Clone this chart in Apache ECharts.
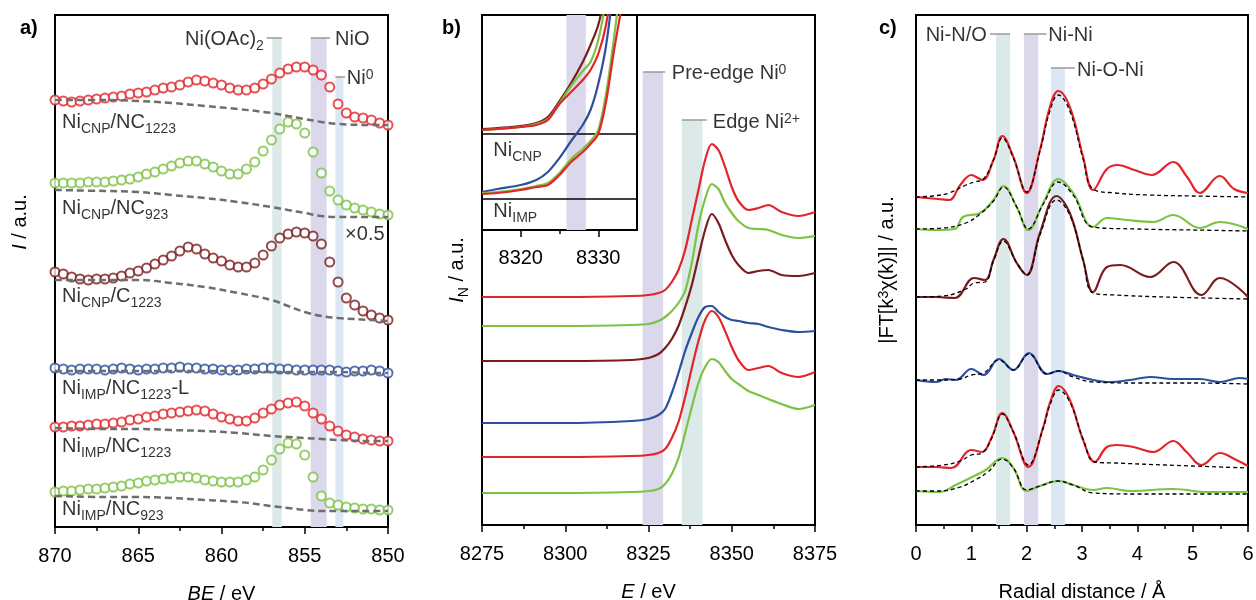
<!DOCTYPE html>
<html><head><meta charset="utf-8">
<script src="https://cdn.jsdelivr.net/npm/echarts@6/dist/echarts.min.js"></script>
<style>html,body{margin:0;padding:0;background:#fff}#c{width:1256px;height:600px}</style>
</head><body><div id="c"></div>
<script>
// ---------- Panel a: XPS Ni 2p3/2 (BE / eV, intensity in a.u.) ----------
const beXps = [870,869.5,869,868.5,868,867.5,867,866.5,866,865.5,865,864.5,864,863.5,863,862.5,862,861.5,861,860.5,860,859.5,859,858.5,858,857.5,857,856.5,856,855.5,855,854.5,854,853.5,853,852.5,852,851.5,851,850.5,850];
const xpsCnpNc1223 = [427,426,425,426,427,428,429,430,431,433,434,435,437,439,440,442,445,447,446,444,442,439,437,437,439,443,448,454,458,460,460,457,452,440,423,414,410,409,407,404,402];
const xpsCnpNc923 = [344,344,344,344,345,345,345,346,347,348,350,353,355,358,361,364,366,366,363,360,356,353,353,358,365,376,387,398,405,403,394,375,354,336,327,322,319,317,315,313,312];
const xpsCnpC1223 = [255,253,250,248,247,248,248,249,251,254,256,259,263,267,271,276,280,278,273,269,266,262,260,260,264,272,281,289,293,295,294,291,283,265,245,229,222,216,212,209,207];
const xpsImpNc1223L = [159,158,157,158,158,158,157,158,159,158,157,158,158,159,159,160,159,159,158,158,157,157,157,158,158,159,159,158,158,157,157,157,157,157,156,155,156,156,157,156,154];
const xpsImpNc1223 = [100,100,101,101,102,103,103,104,105,107,108,110,111,113,114,115,116,117,116,113,110,108,106,106,109,114,118,122,124,125,121,114,108,101,96,92,90,88,87,86,86];
const xpsImpNc923 = [35,36,36,37,38,38,39,40,41,43,44,46,47,48,49,50,50,49,47,46,45,45,45,47,50,57,67,78,84,83,72,50,31,24,22,20,19,18,18,17,17];
const beBg = [870,867,865,863,861,859,857,856,855,854,853,851,850];
const bgCnpNc1223 = [427,427,426,424,421,418,414,411,408,405,403,402,402];
const bgCnpNc923 = [337,336,335,332,329,325,320,317,314,311,310,310,310];
const bgCnpC1223 = [247,247,247,244,240,234,227,221,215,211,209,207,206];
const bgImpNc1223L = [156,156,156,156,156,156,155,155,155,155,155,154,154];
const bgImpNc1223 = [99,98,98,97,96,94,91,90,89,88,87,86,86];
const bgImpNc923 = [31,30,30,29,27,25,21,19,17,16,16,16,16];

// ---------- Panel b: XANES Ni K-edge ----------
const eXanes = [8275,8300,8320,8325,8328,8330,8332,8334,8336,8338,8340,8342,8344,8346,8348,8350,8352,8355,8358,8361,8365,8370,8375];
const xanCnpNc1223 = [228,228,229,230,232,235,243,255,275,305,335,365,381,375,358,338,324,315,317,320,313,309,313];
const xanCnpNc923 = [199,199,200,201,204,208,214,222,234,262,300,326,341,336,322,312,304,297,296,295,290,287,289];
const xanCnpC1223 = [164,164,165,167,171,177,186,199,218,240,268,295,311,302,285,270,260,252,254,255,250,249,252];
const xanImpNc1223L = [102,102,104,106,110,116,132,152,174,192,208,218,219,213,208,205,204,202,201,198,195,193,194];
const xanImpNc1223 = [68,68,69,70,72,76,87,103,128,157,184,205,214,208,194,178,165,155,157,159,152,148,153];
const xanImpNc923 = [32,32,33,34,36,41,51,67,92,118,142,158,166,163,154,146,141,134,130,126,121,116,120];
// inset (pre-edge zoom)
const eInset = [8315,8317,8320,8322,8323.5,8325,8326.5,8328,8329,8330,8331,8332,8333,8334];
const insCnpC1223 = [101,102,104,107,113,129,147,168,185,205,240];
const insCnpNc923 = [100,101,103,106,111,127,144,159,168,190,228,262];
const insCnpNc1223 = [100,101,103,105,110,126,138,150,160,176,205,260];
const insImpNc1223L = [38,41,45,50,58,72,89,105,120,146,184,245];
const insImpNc923 = [37,38,41,44,47,57,71,81,89,100,136,190,255];
const insImpNc1223 = [36,37,40,43,45,55,68,78,86,96,128,178,222,265];
const insetTickLabels = [8320, 8330];
const insetMinorTicks = [8325];

// ---------- Panel c: FT-EXAFS ----------
const rRedTop = [0,0.2,0.4,0.6,0.8,1.0,1.2,1.4,1.56,1.76,2.0,2.24,2.42,2.57,2.78,3.02,3.2,3.45,3.65,3.95,4.26,4.65,4.9,5.13,5.49,5.75,6];
const ftRedTop = [328,327,326,325,340,350,345,365,389,368,332,375,418,434,418,368,335,356,360,355,350,363,348,332,349,336,332];
const rRedTopFit = [0,0.3,0.6,0.9,1.05,1.22,1.4,1.56,1.76,2.0,2.24,2.42,2.57,2.78,3.02,3.2,3.6,4.2,5,6];
const fitRedTop = [328,329,332,340,343,346,365,387,367,333,374,414,430,414,366,336,332,330,329,328];
const rGreenTop = [0,0.36,0.7,0.85,1.16,1.4,1.58,1.82,2.03,2.3,2.57,2.84,3.2,3.45,3.81,4.29,4.65,5.13,5.49,6];
const ftGreenTop = [296,295,296,308,312,325,339,318,295,322,346,332,298,307,305,303,310,297,303,296];
const rGreenTopFit = [0,0.5,0.9,1.16,1.4,1.58,1.82,2.03,2.3,2.57,2.84,3.2,4,5,6];
const fitGreenTop = [296,297,302,311,324,338,318,296,321,343,330,298,296,295,294];
const rDark = [0,0.36,0.7,1.05,1.25,1.4,1.58,1.82,2.0,2.24,2.54,2.78,3.02,3.2,3.45,3.69,4.23,4.65,5.16,5.49,6];
const ftDark = [228,228,227,247,245,265,286,262,250,292,329,312,265,233,258,260,248,263,230,247,228];
const rDarkFit = [0,0.5,0.9,1.05,1.25,1.4,1.58,1.82,2.0,2.24,2.54,2.78,3.02,3.2,3.6,4.5,6];
const fitDark = [228,229,236,242,243,264,284,262,250,290,325,310,265,232,230,228,226];
const rBlue = [0,0.36,0.54,0.72,1.0,1.22,1.5,1.76,2.04,2.37,2.57,2.84,3.2,3.5,3.87,4.23,4.65,5.13,5.49,5.85,6];
const ftBlue = [145,143,146,145,156,150,166,155,172,151,154,150,145,143,145,148,146,146,143,147,146];
const rBlueFit = [0,0.5,0.8,1.0,1.22,1.5,1.76,2.04,2.37,2.57,2.84,3.2,4,5,6];
const fitBlue = [145,145,146,150,152,165,155,171,151,154,148,143,142,142,141];
const rRedBot = [0,0.36,0.64,1.0,1.19,1.37,1.56,1.76,2.03,2.3,2.42,2.58,2.78,3.02,3.23,3.45,3.63,3.93,4.29,4.65,4.89,5.16,5.49,5.79,6];
const ftRedBot = [58,58,57,75,73,88,112,93,58,98,122,139,125,85,63,78,80,78,73,84,73,60,72,65,59];
const rRedBotFit = [0,0.5,0.8,1.0,1.19,1.37,1.56,1.76,2.03,2.3,2.42,2.58,2.78,3.02,3.23,3.6,4.5,6];
const fitRedBot = [58,60,64,70,72,87,111,93,60,97,120,135,123,86,63,62,60,57];
const rGreenBot = [0,0.42,0.72,1.02,1.26,1.56,1.76,2.0,2.24,2.57,2.84,3.2,3.45,3.87,4.65,5.25,6];
const ftGreenBot = [34,33,40,48,55,67,57,34,39,44,40,35,37,34,36,33,33];
const rGreenBotFit = [0,0.42,0.8,1.1,1.3,1.56,1.76,2.0,2.24,2.57,2.84,3.2,4,5,6];
const fitGreenBot = [34,34,38,46,53,66,57,35,39,44,40,32,31,31,31];

// ---------- styling ----------
const F = '"Liberation Sans", Arial, Helvetica, sans-serif';
const RED = '#e3242b', GREEN = '#7cc243', DRED = '#7b1b1e', BLUE = '#2c4f9f', BGC = '#6e6e6e';
const TEAL = '#dce9e9', LAV = '#dcd8ec', LBLUE = '#dbe7f2', GUIDE = '#9a9a9a';
const rich = {
  n: {fontFamily: F, fontSize: 20, color: '#000', lineHeight: 22, verticalAlign: 'middle'},
  i: {fontFamily: F, fontSize: 20, fontStyle: 'italic', color: '#000', lineHeight: 22, verticalAlign: 'middle'},
  s: {fontFamily: F, fontSize: 14, color: '#000', lineHeight: 14, padding: [14, 0, 0, 0], verticalAlign: 'middle'},
  p: {fontFamily: F, fontSize: 14, color: '#000', lineHeight: 14, padding: [0, 0, 6, 0], verticalAlign: 'middle'}
};
const zip = (xs, ys) => ys.map((y, k) => [xs[k], y]);
const plain = v => String(v);

function xAx(gi, min, max, interval, name, extra) {
  return Object.assign({
    type: 'value', gridIndex: gi, min: min, max: max, interval: interval, position: 'bottom',
    axisLine: {show: true, onZero: false, lineStyle: {color: '#000', width: 2}},
    axisTick: {show: true, inside: false, length: 7, lineStyle: {color: '#000', width: 1.5}},
    minorTick: {show: true, splitNumber: 2, length: 4, lineStyle: {color: '#000', width: 1.5}},
    axisLabel: {fontFamily: F, fontSize: 20, color: '#000', margin: 19, formatter: plain},
    splitLine: {show: false}, minorSplitLine: {show: false},
    name: name, nameLocation: 'middle', nameGap: 56,
    nameTextStyle: {rich: rich}
  }, extra || {});
}
function yAx(gi, max, name, gap) {
  return {
    type: 'value', gridIndex: gi, min: 0, max: max,
    axisLine: {show: false}, axisTick: {show: false}, axisLabel: {show: false},
    splitLine: {show: false},
    name: name || '', nameLocation: 'middle', nameGap: gap || 20, nameRotate: 90,
    nameTextStyle: {rich: rich}
  };
}
function band(xi, yi, rows) {
  return {
    type: 'custom', xAxisIndex: xi, yAxisIndex: yi, z: 1, silent: true,
    data: rows,
    renderItem: function (params, api) {
      const p1 = api.coord([api.value(0), api.value(2)]);
      const p2 = api.coord([api.value(1), 0]);
      return {type: 'rect', shape: {x: Math.min(p1[0], p2[0]), y: p1[1], width: Math.abs(p2[0] - p1[0]), height: p2[1] - p1[1]},
        style: {fill: [TEAL, LAV, LBLUE][api.value(3)]}};
    }
  };
}
function seg(xi, yi, pts, color, w) {
  return {type: 'line', xAxisIndex: xi, yAxisIndex: yi, data: pts, symbol: 'none', silent: true, z: 2,
    lineStyle: {color: color || GUIDE, width: w || 1.5}};
}
function labels(xi, yi, items) {
  return {type: 'scatter', xAxisIndex: xi, yAxisIndex: yi, symbolSize: 0.1, silent: true, z: 10,
    itemStyle: {color: 'transparent'},
    label: {show: true, distance: 0, rich: rich},
    data: items.map(it => ({value: [it[0], it[1]], label: {position: it[2], formatter: it[3], distance: 0, rich: rich}}))};
}
function xpsSeries(vals, color) {
  return {type: 'scatter', xAxisIndex: 0, yAxisIndex: 0, symbol: 'emptyCircle', symbolSize: 9, z: 3, silent: true,
    itemStyle: {color: color, borderColor: color, borderWidth: 1.4}, data: zip(beXps, vals)};
}
function bgSeries(vals) {
  return {type: 'line', xAxisIndex: 0, yAxisIndex: 0, symbol: 'none', smooth: 0.4, z: 5, silent: true,
    lineStyle: {color: BGC, width: 2.5, type: [7, 4]}, data: zip(beBg, vals)};
}
function curve(xi, yi, xs, ys, color, sm) {
  return {type: 'line', xAxisIndex: xi, yAxisIndex: yi, symbol: 'none', smooth: sm, z: 4, silent: true, clip: true,
    lineStyle: {color: color, width: 2.2}, data: zip(xs, ys)};
}
function fit(xs, ys) {
  return {type: 'line', xAxisIndex: 4, yAxisIndex: 3, symbol: 'none', smooth: 0.4, z: 6, silent: true,
    lineStyle: {color: '#000', width: 1.3, type: [4, 3]}, data: zip(xs, ys)};
}
function gridBox(left, width, height, bg) {
  return {left: left, top: 15, width: width, height: height, show: true, borderColor: '#000', borderWidth: 2,
    backgroundColor: bg || 'transparent', containLabel: false, outerBoundsMode: 'none'};
}

const chart = echarts.init(document.getElementById('c'), null, {renderer: 'canvas'});
const option = {
  animation: false,
  backgroundColor: '#fff',
  title: [
    {text: 'a)', left: 15, top: 13, textStyle: {fontFamily: F, fontSize: 20, fontWeight: 'bold', color: '#000'}},
    {text: 'b)', left: 437, top: 13, textStyle: {fontFamily: F, fontSize: 20, fontWeight: 'bold', color: '#000'}},
    {text: 'c)', left: 874, top: 13, textStyle: {fontFamily: F, fontSize: 20, fontWeight: 'bold', color: '#000'}}
  ],
  graphic: [
    {type: 'text', x: 20, y: 222, rotation: Math.PI / 2, z: 20,
      style: {text: '{i|I}{n| / a.u.}', rich: rich, align: 'center', verticalAlign: 'middle'}}
  ],
  grid: [
    gridBox(55, 333, 512),
    gridBox(482, 333, 510),
    gridBox(482, 155, 215, '#fff'),
    gridBox(916, 332, 510)
  ],
  xAxis: [
    xAx(0, 850, 870, 5, '{i|BE}{n| / eV}', {inverse: true}),
    xAx(1, 8275, 8375, 25, '{i|E}{n| / eV}'),
    xAx(2, 8315, 8335, 5, '', {
      axisLabel: {fontFamily: F, fontSize: 20, color: '#000', margin: 18, formatter: plain, customValues: insetTickLabels},
      axisTick: {show: true, length: 7, lineStyle: {color: '#000', width: 1.5}, customValues: insetTickLabels},
      minorTick: {show: false}}),
    xAx(2, 8315, 8335, 5, '', {
      axisLine: {show: false}, axisLabel: {show: false},
      axisTick: {show: true, length: 4, lineStyle: {color: '#000', width: 1.5}, customValues: insetMinorTicks},
      minorTick: {show: false}}),
    xAx(3, 0, 6, 1, '{n|Radial distance / Å}')
  ],
  yAxis: [
    yAx(0, 512),
    yAx(1, 510, '{i|I}{s|N}{n| / a.u.}', 14),
    yAx(2, 215),
    yAx(3, 510, '{n||FT[k}{p|3}{n|χ(k)]| / a.u.}', 18)
  ],
  series: [
    // panel a
    band(0, 0, [[856.95, 856.38, 489, 0], [854.64, 853.68, 489, 1], [853.16, 852.68, 450, 2]]),
    seg(0, 0, [[857.29, 489], [856.38, 489]]),
    seg(0, 0, [[854.64, 489], [853.48, 489]]),
    seg(0, 0, [[853.16, 450], [852.58, 450]]),
    xpsSeries(xpsCnpNc1223, RED),
    xpsSeries(xpsCnpNc923, GREEN),
    xpsSeries(xpsCnpC1223, DRED),
    xpsSeries(xpsImpNc1223L, BLUE),
    xpsSeries(xpsImpNc1223, RED),
    xpsSeries(xpsImpNc923, GREEN),
    bgSeries(bgCnpNc1223), bgSeries(bgCnpNc923), bgSeries(bgCnpC1223),
    bgSeries(bgImpNc1223L), bgSeries(bgImpNc1223), bgSeries(bgImpNc923),
    labels(0, 0, [
      [857.45, 488, 'left', '{n|Ni(OAc)}{s|2}'],
      [853.18, 488, 'right', '{n|NiO}'],
      [852.48, 449, 'right', '{n|Ni}{p|0}'],
      [852.58, 293, 'right', '{n|×0.5}'],
      [869.58, 405, 'right', '{n|Ni}{s|CNP}{n|/NC}{s|1223}'],
      [869.58, 319, 'right', '{n|Ni}{s|CNP}{n|/NC}{s|923}'],
      [869.58, 231, 'right', '{n|Ni}{s|CNP}{n|/C}{s|1223}'],
      [869.58, 139, 'right', '{n|Ni}{s|IMP}{n|/NC}{s|1223}{n|-L}'],
      [869.58, 81, 'right', '{n|Ni}{s|IMP}{n|/NC}{s|1223}'],
      [869.58, 18, 'right', '{n|Ni}{s|IMP}{n|/NC}{s|923}']
    ]),
    // panel b
    band(1, 1, [[8323.2, 8329.4, 453, 1], [8335, 8341.2, 405, 0]]),
    seg(1, 1, [[8323.4, 453], [8330, 453]]),
    seg(1, 1, [[8335, 405], [8342.5, 405]]),
    curve(1, 1, eXanes, xanCnpNc1223, RED, 0.3),
    curve(1, 1, eXanes, xanCnpNc923, GREEN, 0.3),
    curve(1, 1, eXanes, xanCnpC1223, DRED, 0.3),
    curve(1, 1, eXanes, xanImpNc1223L, BLUE, 0.3),
    curve(1, 1, eXanes, xanImpNc1223, RED, 0.3),
    curve(1, 1, eXanes, xanImpNc923, GREEN, 0.3),
    labels(1, 1, [
      [8332, 452, 'right', '{n|Pre-edge Ni}{p|0}'],
      [8344.3, 403, 'right', '{n|Edge Ni}{p|2+}']
    ]),
    // inset
    band(2, 2, [[8325.9, 8328.4, 215, 1]]),
    seg(2, 2, [[8315, 96], [8335, 96]], '#000', 1.5),
    seg(2, 2, [[8315, 31], [8335, 31]], '#000', 1.5),
    curve(2, 2, eInset, insCnpC1223, DRED, 0.3),
    curve(2, 2, eInset, insCnpNc923, GREEN, 0.3),
    curve(2, 2, eInset, insCnpNc1223, RED, 0.3),
    curve(2, 2, eInset, insImpNc1223L, BLUE, 0.3),
    curve(2, 2, eInset, insImpNc923, GREEN, 0.3),
    curve(2, 2, eInset, insImpNc1223, RED, 0.3),
    labels(2, 2, [
      [8316.46, 80, 'right', '{n|Ni}{s|CNP}'],
      [8316.46, 19, 'right', '{n|Ni}{s|IMP}']
    ]),
    // panel c
    band(4, 3, [[1.446, 1.70, 491, 0], [1.95, 2.21, 491, 1], [2.44, 2.69, 457, 2]]),
    seg(4, 3, [[1.34, 491], [1.70, 491]]),
    seg(4, 3, [[1.95, 491], [2.36, 491]]),
    seg(4, 3, [[2.44, 457], [2.87, 457]]),
    curve(4, 3, rRedTop, ftRedTop, RED, 0.4),
    curve(4, 3, rGreenTop, ftGreenTop, GREEN, 0.4),
    curve(4, 3, rDark, ftDark, DRED, 0.4),
    curve(4, 3, rBlue, ftBlue, BLUE, 0.4),
    curve(4, 3, rRedBot, ftRedBot, RED, 0.4),
    curve(4, 3, rGreenBot, ftGreenBot, GREEN, 0.4),
    fit(rRedTopFit, fitRedTop), fit(rGreenTopFit, fitGreenTop), fit(rDarkFit, fitDark),
    fit(rBlueFit, fitBlue), fit(rRedBotFit, fitRedBot), fit(rGreenBotFit, fitGreenBot),
    labels(4, 3, [
      [1.28, 490, 'left', '{n|Ni-N/O}'],
      [2.39, 490, 'right', '{n|Ni-Ni}'],
      [2.91, 455, 'right', '{n|Ni-O-Ni}']
    ])
  ]
};
chart.setOption(option);
</script></body></html>
